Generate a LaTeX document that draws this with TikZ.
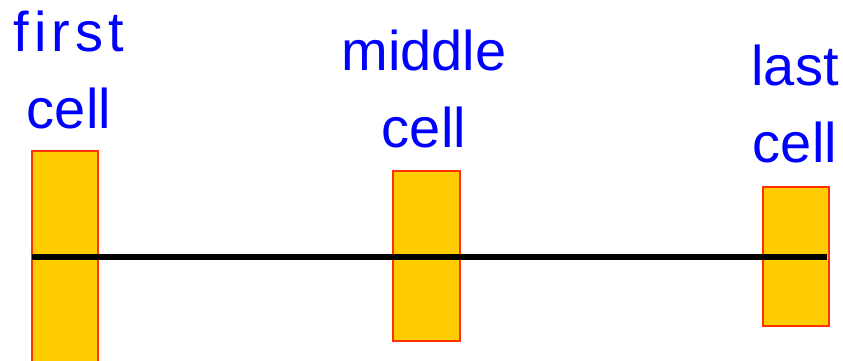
\documentclass[tikz,border=0pt]{standalone}
\usepackage{fontspec}
\setmainfont{Liberation Sans}
\definecolor{cellfill}{HTML}{FFCC00}
\definecolor{celledge}{HTML}{FF3300}
\definecolor{labelblue}{HTML}{0000FF}
\tikzset{
  cellbox/.style={draw=celledge, fill=cellfill, line width=2.2pt, anchor=north west,
    inner sep=0pt, outer sep=0pt},
  celllabel/.style={text=labelblue, align=center, anchor=base, inner sep=0pt,
    font=\fontsize{56}{77}\selectfont},
  axisline/.style={draw=black, line width=5.5pt},
}
\begin{document}
\begin{tikzpicture}[x=1pt,y=-1pt]
\useasboundingbox (0,0) rectangle (843,360);
\clip (0,0) rectangle (843,360);
\node[cellbox, minimum width=66.6pt, minimum height=229pt] (c1) at (31.7,151) {};
\node[cellbox, minimum width=66.4pt, minimum height=169.7pt] (c2) at (393.3,171) {};
\node[cellbox, minimum width=66pt, minimum height=138.7pt] (c3) at (763.3,187.3) {};
\coordinate (lstart) at (31.7,257);
\coordinate (lend) at (827,257);
\draw[axisline] (lstart) -- (lend);
\node[celllabel] (l1) at (69,128) {{\addfontfeature{LetterSpace=9}first}\\cell};
\node[celllabel] (l2) at (424,147.7) {middle\\cell};
\node[celllabel] (l3) at (795,162.3) {last\\cell};
\end{tikzpicture}
\end{document}
